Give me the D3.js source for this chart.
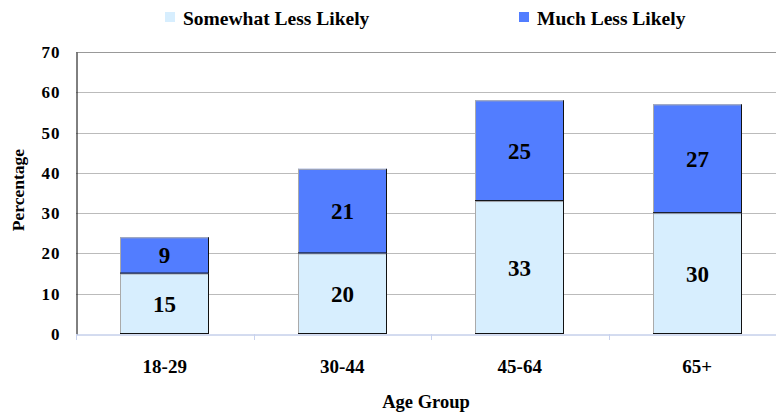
<!DOCTYPE html>
<html><head><meta charset="utf-8">
<script src="https://cdn.jsdelivr.net/npm/d3@7"></script>
<style>
body{margin:0;background:#fff;}
text{font-family:"Liberation Serif","Times New Roman",serif;font-weight:bold;fill:#000;}
</style></head>
<body><svg id="c" width="776" height="413"></svg>
<script>
const categories = ["18-29","30-44","45-64","65+"];
const somewhat = [15,20,33,30];
const much = [9,21,25,27];
const seriesNames = ["Somewhat Less Likely","Much Less Likely"];
const colors = ["#d7eefe","#527dff"];
const yTicks = [0,10,20,30,40,50,60,70];

const svg = d3.select("#c");
const m = {l:76, r:786, t:52, b:334};
const x = d3.scaleBand().domain(categories).range([m.l, m.r]).paddingInner(0.5).paddingOuter(0.25);
const xb = d3.scaleBand().domain(categories).range([m.l, m.r]);
const y = d3.scaleLinear().domain([0,70]).range([m.b, m.t]);

// gridlines
svg.append("g").selectAll("line").data(yTicks.filter(d=>d>0)).join("line")
  .attr("x1", m.l).attr("x2", 776).attr("y1", d=>Math.round(y(d))+0.5).attr("y2", d=>Math.round(y(d))+0.5)
  .attr("stroke", d=>d===70?"#999":"#bbb").attr("stroke-width",1);

// y axis
const ya = d3.axisLeft(y).tickValues(yTicks).tickSize(0).tickPadding(16);
const yg = svg.append("g").attr("transform",`translate(${m.l+0.5},0)`).call(ya);
yg.select(".domain").attr("stroke","#000");
yg.selectAll("text").style("font-size","17px").style("font-family","Liberation Serif").style("font-weight","bold").attr("letter-spacing","1px");

// x axis
const xa = d3.axisBottom(xb).tickSize(0).tickFormat("");
const xg = svg.append("g").attr("transform",`translate(0,${m.b+0.5})`).call(xa);
xg.select(".domain").attr("stroke","#a8b8e0");
svg.append("g").selectAll("line").data(d3.range(categories.length+1)).join("line")
  .attr("x1", i=>Math.round(m.l + i*xb.bandwidth())+0.5).attr("x2", i=>Math.round(m.l + i*xb.bandwidth())+0.5)
  .attr("y1", m.b).attr("y2", m.b+6).attr("stroke","#c8d2ee");
svg.append("g").selectAll("text").data(categories).join("text")
  .attr("x", d=>xb(d)+xb.bandwidth()/2).attr("y", 373).attr("text-anchor","middle")
  .style("font-size","19px").text(d=>d);

// bars
const stackData = categories.map((c,i)=>({cat:c, v:[somewhat[i], much[i]]}));
stackData.forEach(d=>{
  let base = 0;
  d.v.forEach((v,si)=>{
    const x0 = Math.round(x(d.cat)), x1 = Math.round(x(d.cat)+x.bandwidth());
    const yTop = y(base+v), yBot = y(base);
    const g = svg.append("g");
    g.append("rect").attr("x",x0).attr("y",yTop).attr("width",x1-x0).attr("height",yBot-yTop).attr("fill",colors[si]);
    g.append("line").attr("x1",x0+0.5).attr("x2",x0+0.5).attr("y1",yTop).attr("y2",yBot).attr("stroke","#aaa");
    g.append("line").attr("x1",x0).attr("x2",x1).attr("y1",yTop+0.5).attr("y2",yTop+0.5).attr("stroke","#aaa");
    g.append("line").attr("x1",x1-0.5).attr("x2",x1-0.5).attr("y1",yTop).attr("y2",yBot).attr("stroke","#111");
    g.append("line").attr("x1",x0).attr("x2",x1).attr("y1",yBot-0.5).attr("y2",yBot-0.5).attr("stroke","#111");
    g.append("text").attr("x",(x0+x1)/2).attr("y",(yTop+yBot)/2+8).attr("text-anchor","middle")
      .style("font-size","23px").text(v);
    base += v;
  });
});

// axis titles
svg.append("text").attr("x",426).attr("y",408).attr("text-anchor","middle").style("font-size","18.5px").text("Age Group");
svg.append("text").attr("transform","translate(24,190) rotate(-90)").attr("text-anchor","middle").style("font-size","17.5px").text("Percentage");

// legend
const legX = [165, 519];
seriesNames.forEach((n,i)=>{
  svg.append("rect").attr("x",legX[i]).attr("y",12).attr("width",10).attr("height",10).attr("fill",colors[i]);
  svg.append("text").attr("x",legX[i]+18).attr("y",25).style("font-size","19.5px").text(n);
});
</script></body></html>
